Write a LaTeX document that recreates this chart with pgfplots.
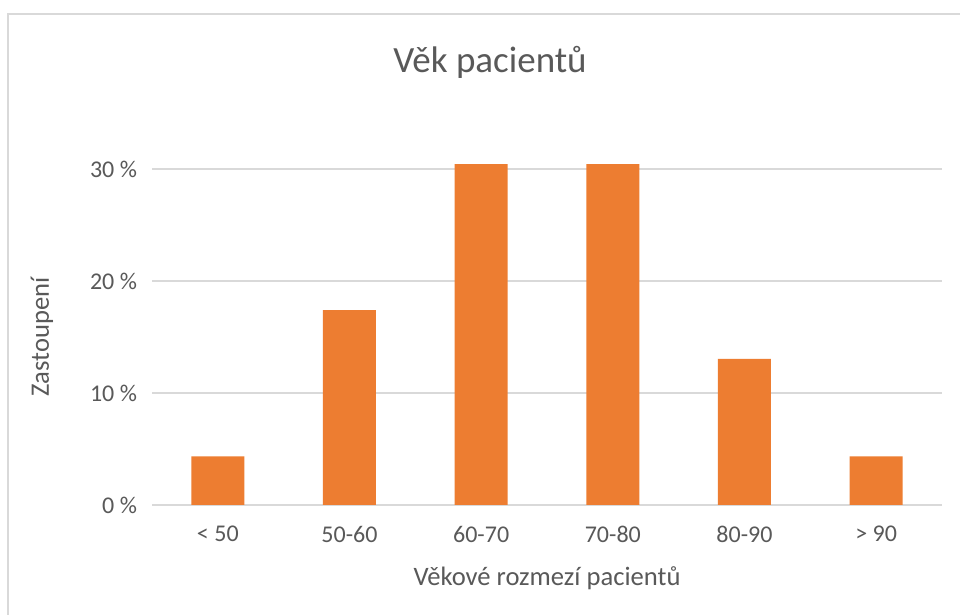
\documentclass[border=0pt]{standalone}
\usepackage{fontspec}
\setmainfont{Carlito}
\usepackage{pgfplots}
\pgfplotsset{compat=1.18}
\definecolor{barorange}{HTML}{ED7D31}
\definecolor{txtgray}{HTML}{595959}
\definecolor{gridgray}{HTML}{D9D9D9}
\begin{document}
\begin{tikzpicture}
% page frame: 960x615 px at 0.5pt per px
\useasboundingbox (0pt,0pt) rectangle (480pt,307.5pt);
\fill[white] (0pt,0pt) rectangle (480pt,307.5pt);
\draw[gridgray, line width=0.75pt] (4pt,0pt) -- (4pt,300.5pt) -- (480pt,300.5pt);
\begin{axis}[
  at={(76pt,55pt)}, anchor=south west,
  scale only axis, width=395pt, height=184.8pt,
  xmin=-0.5, xmax=5.5, ymin=0, ymax=33,
  axis line style={draw=none},
  major tick length=0pt,
  xtick=data,
  xticklabels={{<~50},50-60,60-70,70-80,80-90,{>~90}},
  ytick={0,10,20,30},
  yticklabels={0~\%,10~\%,20~\%,30~\%},
  ymajorgrids, grid style={gridgray, line width=0.75pt},
  tick label style={font=\fontsize{12}{14}\selectfont, text=txtgray},
  yticklabel style={xshift=-4pt},
  xticklabel style={yshift=-7pt},
  ybar, bar width=26.5pt,
  clip=false,
]
\addplot[fill=barorange, draw=none] coordinates {
 (0,4.35)(1,17.39)(2,30.43)(3,30.43)(4,13.04)(5,4.35)
};
\end{axis}
\node[text=txtgray, font=\fontsize{18.5}{22}\selectfont] at (245pt,276.5pt) {Věk pacientů};
\node[text=txtgray, font=\fontsize{13.3}{16}\selectfont] at (273.5pt,18.5pt) {Věkové rozmezí pacientů};
\node[text=txtgray, font=\fontsize{13.3}{16}\selectfont, rotate=90] at (21pt,139pt) {Zastoupení};
\end{tikzpicture}
\end{document}
